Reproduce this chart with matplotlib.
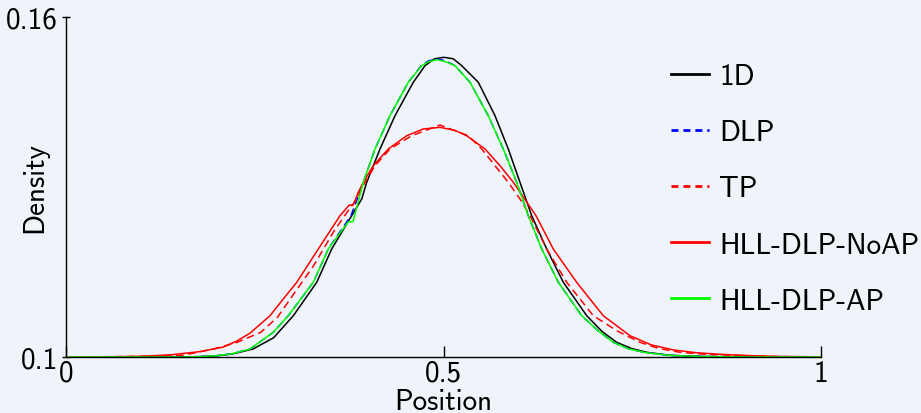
import matplotlib
matplotlib.use("Agg")
import matplotlib.pyplot as plt

plt.rcParams['font.family'] = ['cmss10', 'DejaVu Sans']
plt.rcParams['axes.unicode_minus'] = False
plt.rcParams['axes.formatter.use_mathtext'] = True

BG = "#eef4fa"

# ---- data ----
x_1d = [0.0, 0.10, 0.155, 0.18, 0.20, 0.22, 0.2477, 0.275, 0.3011, 0.3321, 0.3519, 0.3784,
        0.3917, 0.3983, 0.4159, 0.4358, 0.4600, 0.4755, 0.488, 0.5007, 0.513, 0.5241,
        0.5461, 0.5682, 0.5858, 0.6013, 0.6168, 0.6367, 0.6587, 0.6897, 0.71, 0.7294,
        0.7491, 0.7691, 0.80, 0.8424, 0.90, 1.0]
y_1d = [0.1, 0.1, 0.10000, 0.10008, 0.10022, 0.10052, 0.10141, 0.10340, 0.10729, 0.11318,
        0.11906, 0.12494, 0.12788, 0.13083, 0.13671, 0.14259, 0.14848, 0.15141, 0.15262,
        0.15289, 0.15262, 0.15141, 0.14848, 0.14259, 0.13671, 0.13083, 0.12494, 0.11906,
        0.11318, 0.10729, 0.10450, 0.10259, 0.10150, 0.10083, 0.10030, 0.10009, 0.10001, 0.1]

x_dlp = [0.0, 0.10, 0.155, 0.18, 0.20, 0.22, 0.2437, 0.2746, 0.2944, 0.3275, 0.3474, 0.3775,
         0.3938, 0.4093, 0.4291, 0.4534, 0.4711, 0.48, 0.4914, 0.503, 0.5152, 0.5351, 0.5593,
         0.5792, 0.5969, 0.6123, 0.6301, 0.6521, 0.6830, 0.705, 0.7249, 0.745, 0.7669, 0.80,
         0.8424, 0.90, 1.0]
y_dlp = [0.1, 0.1, 0.10000, 0.10008, 0.10024, 0.10058, 0.10141, 0.10436, 0.10729, 0.11318,
         0.11906, 0.12494, 0.13083, 0.13671, 0.14259, 0.14848, 0.15150, 0.15225, 0.15262,
         0.15225, 0.15141, 0.14848, 0.14259, 0.13671, 0.13083, 0.12494, 0.11906, 0.11318,
         0.10729, 0.10460, 0.10259, 0.10145, 0.10079, 0.10028, 0.10009, 0.10001, 0.1]

x_tp = [0.0, 0.0715, 0.1245, 0.155, 0.1950, 0.2250, 0.2580, 0.2800, 0.2970, 0.3280, 0.3540,
        0.3690, 0.3850, 0.3960, 0.4093, 0.4291, 0.4579, 0.4954, 0.5328, 0.5506, 0.5682,
        0.5858, 0.6013, 0.6146, 0.6367, 0.6632, 0.6984, 0.73, 0.7603, 0.785, 0.8132, 0.85,
        0.8927, 0.94, 1.0]
y_tp = [0.1, 0.10007, 0.10018, 0.10030, 0.10141, 0.10250, 0.10436, 0.10700, 0.11024, 0.11612,
        0.12200, 0.12494, 0.12788, 0.13083, 0.13376, 0.13671, 0.13905, 0.14094, 0.13905,
        0.13671, 0.13376, 0.13083, 0.12788, 0.12494, 0.11906, 0.11318, 0.10729, 0.10460,
        0.10259, 0.10150, 0.10083, 0.10045, 0.10026, 0.10008, 0.1]

x_noap = [0.0, 0.05, 0.10, 0.14, 0.1775, 0.2083, 0.226, 0.2437, 0.2702, 0.2878, 0.3056,
          0.3342, 0.3629, 0.3752, 0.3805, 0.3871, 0.3938, 0.4070, 0.4269, 0.4513, 0.4732,
          0.4954, 0.515, 0.5307, 0.5550, 0.5748, 0.5925, 0.6225, 0.6454, 0.6764, 0.7116,
          0.7470, 0.775, 0.8044, 0.835, 0.8702, 0.91, 0.9457, 1.0]
y_noap = [0.1, 0.10002, 0.10012, 0.10040, 0.10095, 0.10175, 0.10280, 0.10420, 0.10729,
          0.11024, 0.11318, 0.11906, 0.12494, 0.12682, 0.12682, 0.12906, 0.13083, 0.13376,
          0.13671, 0.13905, 0.14024, 0.14053, 0.14000, 0.13905, 0.13671, 0.13376, 0.13083,
          0.12494, 0.11906, 0.11318, 0.10729, 0.10376, 0.10215, 0.10125, 0.10075, 0.10045,
          0.10022, 0.10010, 0.10003]

x_ap = [0.0, 0.10, 0.155, 0.18, 0.20, 0.22, 0.2437, 0.2746, 0.2944, 0.3275, 0.3474, 0.3739,
        0.3801, 0.3938, 0.4093, 0.4291, 0.4534, 0.4711, 0.48, 0.4914, 0.503, 0.5152, 0.5351,
        0.5593, 0.5792, 0.5969, 0.6123, 0.6301, 0.6521, 0.6830, 0.705, 0.7249, 0.745, 0.7669,
        0.80, 0.8424, 0.90, 1.0]
y_ap = [0.1, 0.1, 0.10000, 0.10008, 0.10024, 0.10058, 0.10141, 0.10436, 0.10729, 0.11318,
        0.11906, 0.12388, 0.12388, 0.13083, 0.13671, 0.14259, 0.14848, 0.15141, 0.15210,
        0.15246, 0.15210, 0.15141, 0.14848, 0.14259, 0.13671, 0.13083, 0.12494, 0.11906,
        0.11318, 0.10729, 0.10460, 0.10259, 0.10145, 0.10079, 0.10028, 0.10009, 0.10001, 0.1]

labels = ["1D", "DLP", "TP", "HLL-DLP-NoAP", "HLL-DLP-AP"]
x_ticks = [0, 0.5, 1]
x_ticklabels = ["0", "0.5", "1"]
y_ticks = [0.1, 0.16]
y_ticklabels = ["0.1", "0.16"]

FS = 21

fig = plt.figure(figsize=(9.21, 4.14), dpi=100, facecolor=BG)
ax = fig.add_axes([66/921, 56/414, 755/921, 340/414], facecolor=BG)

lw = 1.1
dash = (5, 3)
ax.plot(x_1d, y_1d, color="black", lw=lw, label=labels[0])
ax.plot(x_dlp, y_dlp, color="blue", lw=lw, dashes=dash, label=labels[1])
ax.plot(x_tp, y_tp, color="red", lw=lw, dashes=dash, label=labels[2])
ax.plot(x_noap, y_noap, color="red", lw=lw, label=labels[3])
ax.plot(x_ap, y_ap, color="#00ff00", lw=lw, label=labels[4])

ax.set_xlim(0, 1)
ax.set_ylim(0.1, 0.16)
ax.set_xticks(x_ticks)
ax.set_xticklabels(x_ticklabels)
ax.set_yticks(y_ticks)
ax.set_yticklabels(y_ticklabels)
for s in ["top", "right"]:
    ax.spines[s].set_visible(False)
ax.spines["left"].set_linewidth(1.0)
ax.spines["bottom"].set_linewidth(1.0)
ax.tick_params(axis="x", direction="in", length=8, width=1.0, labelsize=FS, pad=2)
ax.tick_params(axis="y", direction="inout", length=6, width=1.0, labelsize=FS, pad=3)

ax.set_xlabel("Position", fontsize=FS)
ax.set_ylabel("Density", fontsize=FS)
ax.xaxis.set_label_coords(0.5, -0.09)
ax.yaxis.set_label_coords(-0.024, 0.5)

leg = fig.legend(loc="upper left", bbox_to_anchor=(671/921, (414-64)/414),
                 frameon=False, fontsize=FS, handlelength=1.3, handletextpad=0.35,
                 labelspacing=1.0, borderpad=0, borderaxespad=0)
for ln in leg.get_lines():
    ln.set_linewidth(2.0)
    if ln.get_linestyle() not in ("-", "solid"):
        ln.set_dashes((2.5, 1.8))

fig.savefig("out.png", dpi=100, facecolor=BG)
